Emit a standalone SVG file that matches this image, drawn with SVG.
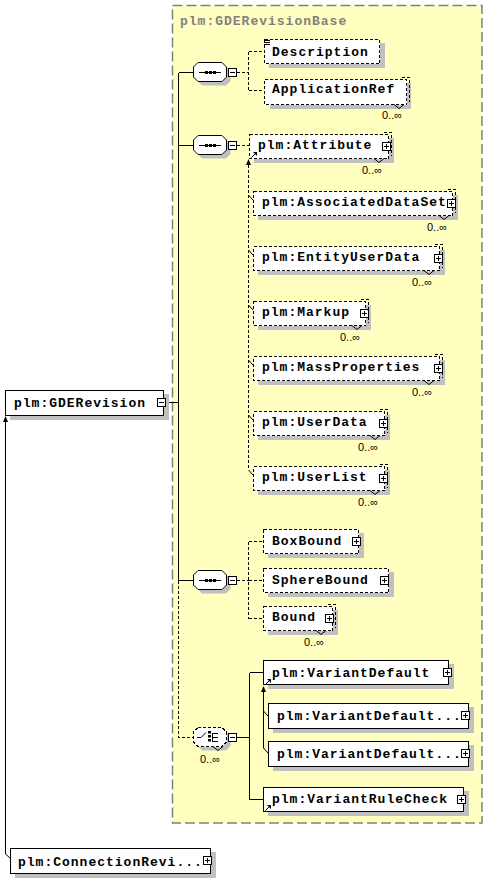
<svg xmlns="http://www.w3.org/2000/svg" width="488" height="879" viewBox="0 0 488 879">
<style>
.t{font-family:"Liberation Mono","Courier New",monospace;font-weight:bold;font-size:13px;letter-spacing:1px;fill:#000}
.ttl{fill:#808080}
.o{font-family:"Liberation Sans",Arial,sans-serif;font-size:11px;fill:#000}
.sh{fill:#c0c0c0}
.b{fill:#fff;stroke:#000;stroke-width:1;shape-rendering:crispEdges}
.db{fill:#fff;stroke:#000;stroke-width:1;stroke-dasharray:3,2;shape-rendering:crispEdges}
.bk{fill:none;stroke:#000;stroke-width:1;stroke-dasharray:3,2;shape-rendering:crispEdges}
.l{fill:none;stroke:#000;stroke-width:1;shape-rendering:crispEdges}
.dl{fill:none;stroke:#000;stroke-width:1;stroke-dasharray:3,2;shape-rendering:crispEdges}
.tk{fill:none;stroke:#000;stroke-width:1}
.ah{fill:#000}
.bg{fill:#ffffc0;stroke:#808080;stroke-width:1.5;stroke-dasharray:10,4}
</style>
<defs>
<g id="plus"><rect x="0.5" y="0.5" width="8" height="8" class="b"/><path d="M2 4.5H7M4.5 2V7" class="l"/></g>
<g id="minus"><rect x="0.5" y="0.5" width="8" height="8" class="b"/><path d="M2 4.5H7" class="l"/></g>
<g id="ref"><path d="M1.5 7.5L5 4" class="tk"/><polygon points="3,2 7,2 7,6" class="ah"/></g>
<path id="notch" d="M-5 0L0 4L5 0" class="tk"/>
<polygon id="oct" points="5,0.5 29,0.5 33.5,5 33.5,15 29,19.5 5,19.5 0.5,15 0.5,5"/>
<g id="seq">
<use href="#oct" x="4" y="4" class="sh"/>
<use href="#oct" fill="#fff" stroke="#000"/>
<path d="M6 10.5H28" class="l"/>
<rect x="12" y="9" width="3" height="3" class="ah"/>
<rect x="16" y="9" width="3" height="3" class="ah"/>
<rect x="20" y="9" width="3" height="3" class="ah"/>
</g>
</defs>

<rect class="bg" x="172.5" y="5.5" width="309.5" height="817.5"/>
<text class="t ttl" x="180" y="25">plm:GDERevisionBase</text>

<g id="connectors">
<path class="l" d="M165.5 402.5H178.5M178.5 72.5V580.5M178.5 72.5H193M178.5 145.5H193M178.5 580.5H193"/>
<path class="dl" d="M178.5 580.5V737.5H193"/>
<path class="dl" d="M237 72.5H248.5M248.5 51.5V90.5M248.5 51.5H264M248.5 90.5H264"/>
<path class="dl" d="M237 145.5H249"/>
<polygon class="ah" points="248.5,159 246,165 251,165"/>
<path class="dl" d="M248.5 165V470"/>
<path class="tk" d="M248.5 195L253 200M248.5 250L253 255M248.5 305L253 310M248.5 360L253 365M248.5 415L253 420M248.5 470L253 475"/>
<path class="dl" d="M237 580.5H248.5M248.5 541.5V618.5M248.5 541.5H263M248.5 580.5H263M248.5 618.5H263"/>
<path class="l" d="M237 737.5H249.5M249.5 672.5V799.5M249.5 672.5H263M249.5 799.5H263"/>
<polygon class="ah" points="263.5,686 261,692 266,692"/>
<path class="l" d="M263.5 692V748"/>
<path class="tk" d="M263.5 711L268 716M263.5 748L268 753"/>
<polygon class="ah" points="5.5,416 3,422 8,422"/>
<path class="l" d="M5.5 422V854"/>
<path class="tk" d="M5.5 854L10 858"/>
</g>

<g id="seq1"><use href="#seq" x="193" y="62"/><use href="#minus" x="228" y="68"/></g>
<g id="seq2"><use href="#seq" x="193" y="135"/><use href="#minus" x="228" y="141"/></g>
<g id="seq3"><use href="#seq" x="193" y="570"/><use href="#minus" x="228" y="576"/></g>
<g id="choice">
<use href="#oct" x="197" y="731" class="sh"/>
<use href="#oct" x="193" y="727" class="db"/>
<path class="tk" d="M197 737.5H201L206 732.5"/>
<rect x="208" y="731" width="3" height="2.5" class="ah"/>
<rect x="208" y="735" width="3" height="2.5" class="ah"/>
<rect x="208" y="739" width="3" height="2.5" class="ah"/>
<path class="l" d="M212.5 733V742M212.5 733.5H218M212.5 737.5H218M212.5 741.5H218"/>
<use href="#notch" x="218" y="746.5"/>
<text class="o" x="200" y="763">0..∞</text>
<use href="#minus" x="228" y="733"/>
</g>

<g id="n-GDERevision">
<rect class="sh" x="10" y="394" width="159" height="26"/>
<rect class="b" x="5.5" y="390.5" width="158" height="25"/>
<text class="t" x="14" y="407">plm:GDERevision</text>
<use href="#minus" x="157" y="398"/>
</g>

<g id="n-Description">
<rect class="sh" x="269" y="43" width="116" height="25"/>
<rect class="db" x="264.5" y="39.5" width="115" height="24"/>
<path class="l" d="M264 40.5H270M264 42.5H270M264 44.5H270"/>
<text class="t" x="272" y="56">Description</text>
</g>

<g id="n-ApplicationRef">
<rect class="sh" x="270" y="83" width="141" height="26"/>
<rect class="db" x="264.5" y="79.5" width="142" height="25"/>
<path class="bk" d="M401.5 77.5H409.5V101.5"/>
<text class="t" x="272" y="93">ApplicationRef</text>
<use href="#notch" x="399" y="104.5"/>
<text class="o" x="382" y="119">0..∞</text>
</g>

<g id="n-Attribute">
<rect class="sh" x="254" y="138" width="140" height="25"/>
<rect class="db" x="249.5" y="134.5" width="139" height="24"/>
<path class="bk" d="M383.5 132.5H391.5V155.5"/>
<text class="t" x="258" y="149">plm:Attribute</text>
<use href="#plus" x="382" y="142"/>
<use href="#ref" x="250" y="150"/>
<use href="#notch" x="379" y="158.5"/>
<text class="o" x="362" y="174">0..∞</text>
</g>

<g id="n-AssociatedDataSet">
<rect class="sh" x="258" y="195" width="200" height="25"/>
<rect class="db" x="253.5" y="191.5" width="199" height="24"/>
<path class="bk" d="M447.5 189.5H455.5V212.5"/>
<text class="t" x="262" y="206">plm:AssociatedDataSet</text>
<use href="#plus" x="447" y="199"/>
<use href="#notch" x="444" y="215.5"/>
<text class="o" x="427" y="231">0..∞</text>
</g>

<g id="n-EntityUserData">
<rect class="sh" x="258" y="250" width="187" height="25"/>
<rect class="db" x="253.5" y="246.5" width="186" height="24"/>
<path class="bk" d="M434.5 244.5H442.5V267.5"/>
<text class="t" x="262" y="261">plm:EntityUserData</text>
<use href="#plus" x="434" y="254"/>
<use href="#notch" x="429" y="270.5"/>
<text class="o" x="412" y="286">0..∞</text>
</g>

<g id="n-Markup">
<rect class="sh" x="258" y="305" width="113" height="25"/>
<rect class="db" x="253.5" y="301.5" width="112" height="24"/>
<path class="bk" d="M360.5 299.5H368.5V322.5"/>
<text class="t" x="262" y="316">plm:Markup</text>
<use href="#plus" x="360" y="309"/>
<use href="#notch" x="357" y="325.5"/>
<text class="o" x="340" y="341">0..∞</text>
</g>

<g id="n-MassProperties">
<rect class="sh" x="258" y="360" width="187" height="25"/>
<rect class="db" x="253.5" y="356.5" width="186" height="24"/>
<path class="bk" d="M434.5 354.5H442.5V377.5"/>
<text class="t" x="262" y="371">plm:MassProperties</text>
<use href="#plus" x="434" y="364"/>
<use href="#notch" x="429" y="380.5"/>
<text class="o" x="412" y="396">0..∞</text>
</g>

<g id="n-UserData">
<rect class="sh" x="258" y="415" width="132" height="25"/>
<rect class="db" x="253.5" y="411.5" width="131" height="24"/>
<path class="bk" d="M379.5 409.5H387.5V432.5"/>
<text class="t" x="262" y="426">plm:UserData</text>
<use href="#plus" x="379" y="419"/>
<use href="#notch" x="375" y="435.5"/>
<text class="o" x="358" y="451">0..∞</text>
</g>

<g id="n-UserList">
<rect class="sh" x="258" y="470" width="132" height="25"/>
<rect class="db" x="253.5" y="466.5" width="131" height="24"/>
<path class="bk" d="M379.5 464.5H387.5V487.5"/>
<text class="t" x="262" y="481">plm:UserList</text>
<use href="#plus" x="379" y="474"/>
<use href="#notch" x="375" y="490.5"/>
<text class="o" x="358" y="506">0..∞</text>
</g>

<g id="n-BoxBound">
<rect class="sh" x="268" y="533" width="96" height="25"/>
<rect class="db" x="263.5" y="529.5" width="95" height="24"/>
<text class="t" x="272" y="545">BoxBound</text>
<use href="#plus" x="352" y="537"/>
</g>

<g id="n-SphereBound">
<rect class="sh" x="268" y="572" width="126" height="25"/>
<rect class="db" x="263.5" y="568.5" width="125" height="24"/>
<text class="t" x="272" y="584">SphereBound</text>
<use href="#plus" x="380" y="576"/>
</g>

<g id="n-Bound">
<rect class="sh" x="268" y="610" width="70" height="25"/>
<rect class="db" x="263.5" y="606.5" width="69" height="24"/>
<path class="bk" d="M327.5 604.5H335.5V627.5"/>
<text class="t" x="272" y="621">Bound</text>
<use href="#plus" x="325" y="614"/>
<use href="#notch" x="321" y="630.5"/>
<text class="o" x="304" y="646">0..∞</text>
</g>

<g id="n-VariantDefault">
<rect class="sh" x="268" y="664" width="186" height="25"/>
<rect class="b" x="263.5" y="660.5" width="185" height="24"/>
<text class="t" x="272" y="677">plm:VariantDefault</text>
<use href="#plus" x="443" y="668"/>
<use href="#ref" x="264" y="677"/>
</g>

<g id="n-VariantDefault1">
<rect class="sh" x="273" y="707" width="201" height="26"/>
<rect class="b" x="268.5" y="703.5" width="200" height="25"/>
<text class="t" x="277" y="720">plm:VariantDefault...</text>
<use href="#plus" x="461" y="711"/>
</g>

<g id="n-VariantDefault2">
<rect class="sh" x="273" y="745" width="201" height="26"/>
<rect class="b" x="268.5" y="741.5" width="200" height="25"/>
<text class="t" x="277" y="758">plm:VariantDefault...</text>
<use href="#plus" x="461" y="749"/>
</g>

<g id="n-VariantRuleCheck">
<rect class="sh" x="268" y="791" width="201" height="25"/>
<rect class="b" x="263.5" y="787.5" width="200" height="24"/>
<text class="t" x="272" y="803">plm:VariantRuleCheck</text>
<use href="#plus" x="457" y="795"/>
<use href="#ref" x="264" y="803"/>
</g>

<g id="n-ConnectionRevision">
<rect class="sh" x="15" y="852" width="201" height="26"/>
<rect class="b" x="10.5" y="848.5" width="200" height="25"/>
<text class="t" x="18" y="866">plm:ConnectionRevi...</text>
<use href="#plus" x="203" y="856"/>
</g>
</svg>
